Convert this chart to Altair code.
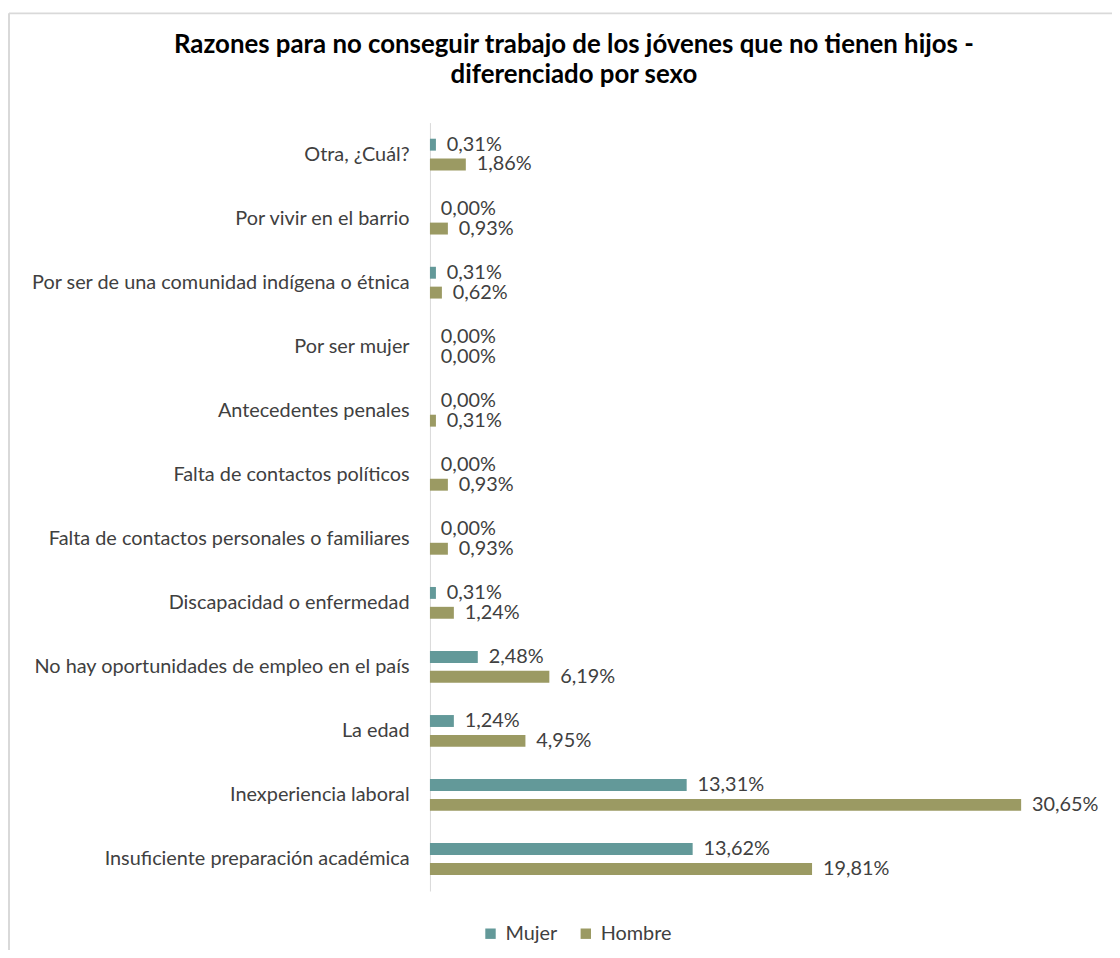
import altair as alt
import pandas as pd

categorias = [
    "Otra, ¿Cuál?",
    "Por vivir en el barrio",
    "Por ser de una comunidad indígena o étnica",
    "Por ser mujer",
    "Antecedentes penales",
    "Falta de contactos políticos",
    "Falta de contactos personales o familiares",
    "Discapacidad o enfermedad",
    "No hay oportunidades de empleo en el país",
    "La edad",
    "Inexperiencia laboral",
    "Insuficiente preparación académica",
]
mujer = [0.31, 0.00, 0.31, 0.00, 0.00, 0.00, 0.00, 0.31, 2.48, 1.24, 13.31, 13.62]
hombre = [1.86, 0.93, 0.62, 0.00, 0.31, 0.93, 0.93, 1.24, 6.19, 4.95, 30.65, 19.81]
series = ["Mujer", "Hombre"]
colores = ["#639999", "#9b9a63"]


def fmt(v):
    return f"{v:.2f}%".replace(".", ",")


rows = []
for c, m, h in zip(categorias, mujer, hombre):
    rows.append({"cat": c, "sexo": "Mujer", "v": m, "lab": fmt(m)})
    rows.append({"cat": c, "sexo": "Hombre", "v": h, "lab": fmt(h)})
df = pd.DataFrame(rows)

FONT = "Lato"
FS = 20

y = alt.Y(
    "cat:N",
    sort=categorias,
    title=None,
    scale=alt.Scale(paddingInner=0, paddingOuter=0),
    axis=alt.Axis(
        domainColor="#d9d9d9",
        domainWidth=1,
        ticks=False,
        grid=False,
        labelFontSize=FS,
        labelColor="#404040",
        labelFont=FONT,
        labelPadding=21,
        labelLimit=600,
    ),
)
x = alt.X("v:Q", scale=alt.Scale(domain=[0, 35], nice=False, zero=True), axis=None)
color = alt.Color(
    "sexo:N",
    scale=alt.Scale(domain=series, range=colores),
    sort=series,
    title=None,
    legend=alt.Legend(
        orient="none",
        direction="horizontal",
        legendX=51,
        legendY=807,
        symbolType="square",
        symbolSize=110,
        symbolStrokeWidth=0,
        labelFontSize=FS,
        labelFont=FONT,
        labelColor="#404040",
        columnPadding=18,
        labelOffset=5,
    ),
)

base = alt.Chart(df)


def capa(s, off):
    b = base.transform_filter(alt.datum.sexo == s)
    bars = b.mark_bar(size=12, yOffset=off).encode(y=y, x=x, color=color)
    text = b.mark_text(
        align="left", baseline="middle", dx=11, yOffset=off,
        fontSize=FS, color="#404040", font=FONT,
    ).encode(y=y, x=x, text="lab:N")
    return bars + text


# light grey chart frame (top and left edges, as in the reference)
borde = pd.DataFrame({"k": [0]})
marco_sup = alt.Chart(borde).mark_rule(color="#d9d9d9", strokeWidth=2).encode(
    x=alt.value(-424), x2=alt.value(690), y=alt.value(-110)
)
marco_izq = alt.Chart(borde).mark_rule(color="#d9d9d9", strokeWidth=2).encode(
    x=alt.value(-424), y=alt.value(-110), y2=alt.value(840)
)

chart = (
    alt.layer(marco_sup, marco_izq, capa("Mujer", -10), capa("Hombre", 10))
    .properties(
        width=680,
        height=774,
        view=alt.ViewBackground(stroke="transparent", strokeWidth=0),
        title=alt.TitleParams(
            ["Razones para no conseguir trabajo de los jóvenes que no tienen hijos -",
             "diferenciado por sexo"],
            anchor="start",
            align="center",
            frame="group",
            dx=145,
            font=FONT,
            fontSize=26,
            fontWeight="bold",
            color="#000000",
            lineHeight=30,
            offset=-76,
        ),
        autosize="none",
        padding={"left": 425, "top": 112, "right": 7, "bottom": 56},
    )
    .configure_view(stroke="transparent", strokeWidth=0)
    .configure(background="white")
)

chart.save("out.html", embed_options={"renderer": "svg", "actions": False})
